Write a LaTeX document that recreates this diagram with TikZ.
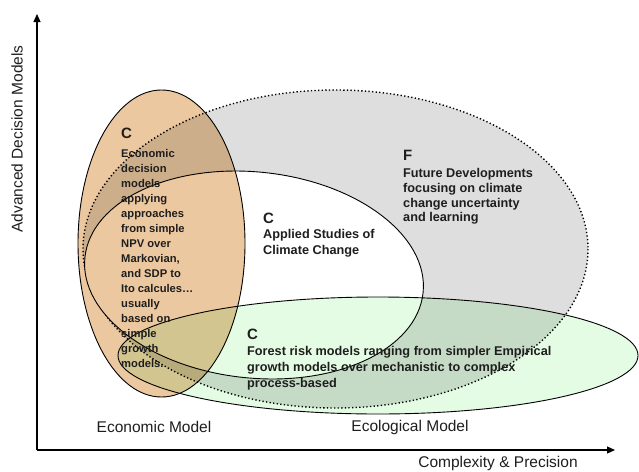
\documentclass[tikz,border=0pt]{standalone}
\usepackage{fontspec}
\setmainfont{Liberation Sans}
\usetikzlibrary{arrows.meta}
\definecolor{grayfill}{RGB}{222,222,222}
\definecolor{orangefill}{RGB}{236,200,160}
\definecolor{greenfill}{RGB}{228,252,228}
\definecolor{txt}{RGB}{30,30,30}
\tikzset{
  edge/.style={draw=black, line width=0.9pt},
  dotedge/.style={draw=black, line width=1.4pt, dash pattern=on 1.3pt off 2.3pt},
  axis/.style={draw=black, line width=1.2pt, -{Triangle[length=8pt,width=7pt]}},
  bigletter/.style={anchor=north west, inner sep=0pt, text=txt, font=\bfseries\fontsize{15}{15}\selectfont},
  smalltext/.style={anchor=north west, inner sep=0pt, text=txt, align=left, font=\bfseries\fontsize{11.2}{15}\selectfont},
  midtext/.style={anchor=north west, inner sep=0pt, text=txt, align=left, font=\bfseries\fontsize{12.7}{14.8}\selectfont},
  wide/.style={anchor=north west, inner sep=0pt, text=txt, align=left, font=\bfseries\fontsize{12.7}{16}\selectfont},
  label/.style={inner sep=0pt, text=txt, font=\fontsize{15.5}{16}\selectfont},
}
\begin{document}
\begin{tikzpicture}[x=1pt, y=-1pt]
\useasboundingbox (0,0) rectangle (639,471);
% future developments (gray, dotted)
\fill[grayfill] (335.5,249) ellipse [x radius=252.5, y radius=159];
\draw[dotedge] (335.5,249) ellipse [x radius=252.5, y radius=159];
% applied studies (white)
\fill[white, rotate around={-6:(254,275)}] (254,275) ellipse [x radius=170, y radius=103];
\draw[edge, rotate around={-6:(254,275)}] (254,275) ellipse [x radius=170, y radius=103];
% economic (orange)
\begin{scope}[blend mode=multiply]
\fill[orangefill] (161.5,243.5) ellipse [x radius=83.5, y radius=153.5];
\end{scope}
\draw[edge] (161.5,243.5) ellipse [x radius=83.5, y radius=153.5];
% ecological (green)
\begin{scope}[blend mode=multiply]
\fill[greenfill] (378,355.5) ellipse [x radius=260, y radius=58.5];
\end{scope}
\draw[edge] (378,355.5) ellipse [x radius=260, y radius=58.5];
% axes
\coordinate (origin) at (37,450);
\coordinate (ytip) at (37,14);
\coordinate (xtip) at (615,450);
\draw[axis] (origin) -- (ytip);
\draw[axis] (origin) -- (xtip);
% texts
\node[bigletter] (ecoC) at (121,128) {C};
\node[smalltext] (ecoT) at (121,149) {Economic\\decision\\models\\applying\\approaches\\from simple\\NPV over\\Markovian,\\and SDP to\\Ito calcules\ldots\\usually\\based on\\simple\\growth\\models.};
\node[bigletter] (futF) at (403,150) {F};
\node[midtext] (futT) at (403,168) {Future Developments\\focusing on climate\\change uncertainty\\and learning};
\node[bigletter] (appC) at (263,213) {C};
\node[wide] (appT) at (263,229) {Applied Studies of\\Climate Change};
\node[bigletter] (forC) at (247,329) {C};
\node[wide] (forT) at (247,346) {Forest risk models ranging from simpler Empirical\\growth models over mechanistic to complex\\process-based};
\node[label, rotate=90] (ylab) at (17,139) {Advanced Decision Models};
\node[label] (ecoL) at (154,427) {Economic Model};
\node[label] (ecolL) at (410,427) {Ecological Model};
\node[label] (xlab) at (498,463) {Complexity \& Precision};
\end{tikzpicture}
\end{document}
